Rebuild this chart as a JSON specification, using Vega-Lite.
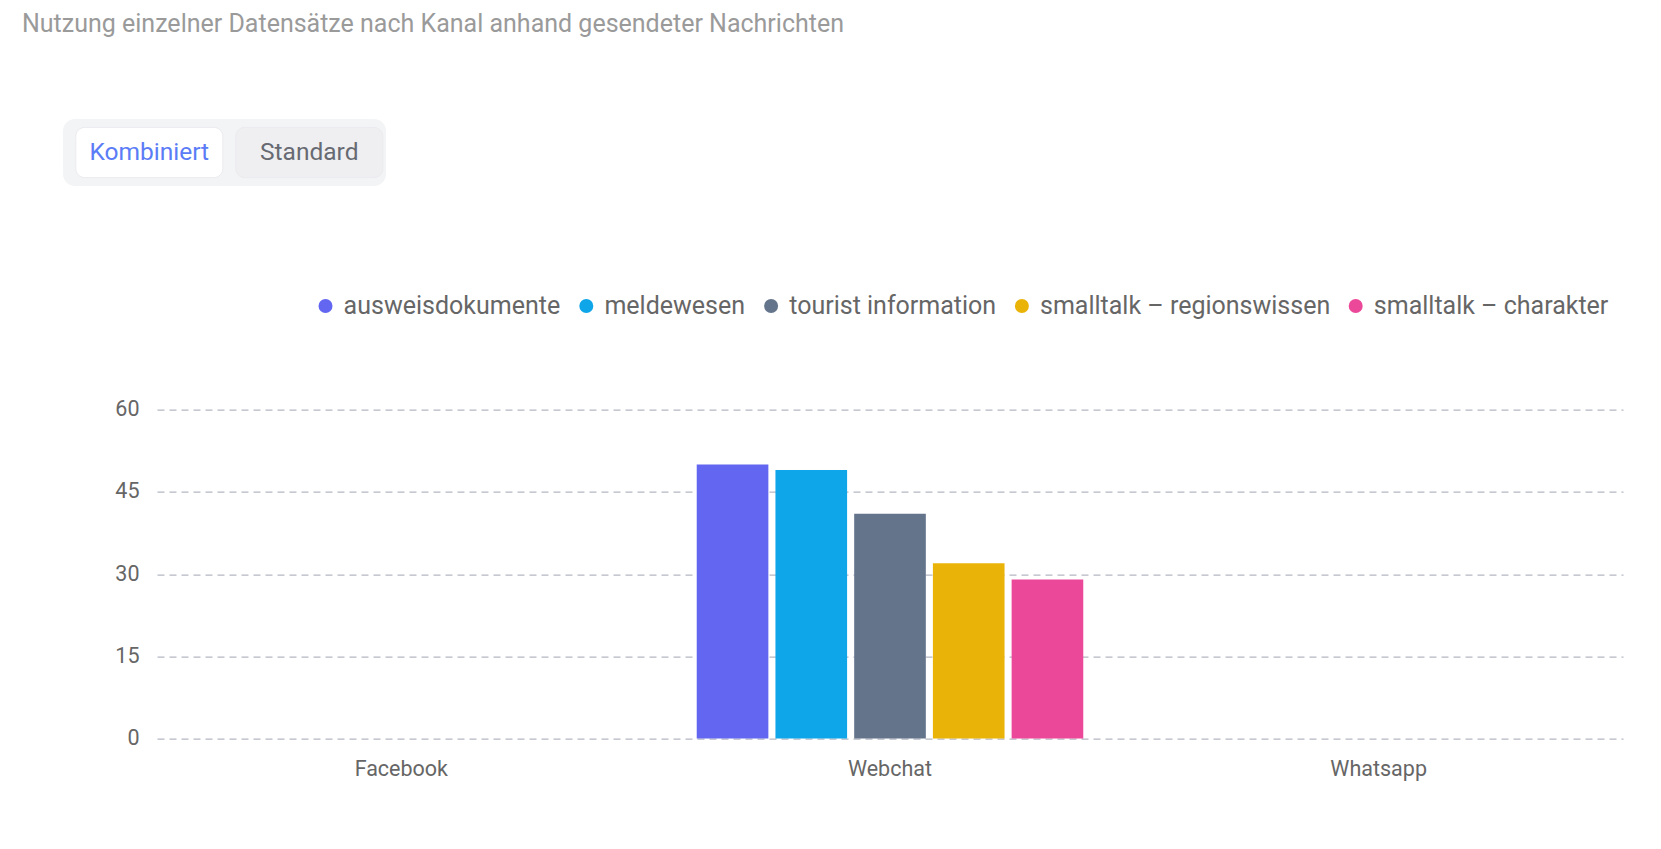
{
  "$schema": "https://vega.github.io/schema/vega-lite/v6.json",
  "background": "#ffffff",
  "padding": {"left": 22, "top": 12, "right": 20, "bottom": 40},
  "title": {
    "text": "Nutzung einzelner Datensätze nach Kanal anhand gesendeter Nachrichten",
    "anchor": "start",
    "dx": -41,
    "offset": 82,
    "fontSize": 25,
    "font": "Roboto",
    "fontWeight": "normal",
    "color": "#9a9a9a"
  },
  "spacing": 106.6,
  "vconcat": [
    {
      "width": 323,
      "height": 67,
      "data": {"values": [
        {"Ansicht": "Kombiniert", "Gruppe": "Ansicht"},
        {"Ansicht": "Standard", "Gruppe": "Ansicht"}
      ]},
      "view": {"fill": "#f3f4f6", "stroke": null, "cornerRadius": 12},
      "encoding": {
        "x": {"field": "Ansicht", "type": "nominal", "axis": null,
              "scale": {"paddingInner": 0.081, "paddingOuter": 0.05, "align": 0.8}},
        "y": {"field": "Gruppe", "type": "nominal", "axis": null,
              "scale": {"paddingInner": 0.25, "paddingOuter": 0.125}}
      },
      "layer": [
        {
          "mark": {"type": "rect", "cornerRadius": 9, "stroke": "#ebebef", "strokeWidth": 1},
          "encoding": {
            "fill": {"field": "Ansicht", "type": "nominal", "legend": null,
                     "scale": {"domain": ["Kombiniert", "Standard"], "range": ["#ffffff", "#efeff1"]}}
          }
        },
        {
          "mark": {"type": "text", "fontSize": 24.5, "font": "Roboto"},
          "encoding": {
            "text": {"field": "Ansicht"},
            "color": {"field": "Ansicht", "type": "nominal", "legend": null,
                      "scale": {"domain": ["Kombiniert", "Standard"], "range": ["#5b7cf6", "#676a72"]}}
          }
        }
      ]
    },
    {
      "spacing": 0,
      "hconcat": [
        {
          "width": 44,
          "height": 329,
          "data": {"values": []},
          "view": {"stroke": null},
          "mark": {"type": "rect"},
          "encoding": {}
        },
        {
          "width": 1466,
          "height": 329,
          "data": {"values": [
            {"Kanal": "Webchat", "Datensatz": "ausweisdokumente", "Nachrichten": 50},
            {"Kanal": "Webchat", "Datensatz": "meldewesen", "Nachrichten": 49},
            {"Kanal": "Webchat", "Datensatz": "tourist information", "Nachrichten": 41},
            {"Kanal": "Webchat", "Datensatz": "smalltalk – regionswissen", "Nachrichten": 32},
            {"Kanal": "Webchat", "Datensatz": "smalltalk – charakter", "Nachrichten": 29}
          ]},
          "view": {"stroke": null},
          "mark": {"type": "bar"},
          "encoding": {
            "x": {
              "field": "Kanal", "type": "nominal",
              "scale": {"domain": ["Facebook", "Webchat", "Whatsapp"], "paddingInner": 0.209, "paddingOuter": 0.1045},
              "axis": {"title": null, "labelAngle": 0, "ticks": false, "domain": false, "labelPadding": 20,
                       "labelFontSize": 21.5, "labelFont": "Roboto", "labelColor": "#666666", "grid": false}
            },
            "xOffset": {
              "field": "Datensatz", "type": "nominal",
              "sort": ["ausweisdokumente", "meldewesen", "tourist information", "smalltalk – regionswissen", "smalltalk – charakter"],
              "scale": {"paddingInner": 0.09, "paddingOuter": 0}
            },
            "y": {
              "field": "Nachrichten", "type": "quantitative",
              "scale": {"domain": [0, 60], "nice": false},
              "axis": {"title": null, "values": [0, 15, 30, 45, 60], "ticks": false, "domain": false,
                       "labelPadding": 18, "minExtent": 50, "maxExtent": 50, "labelFontSize": 21.5, "labelFont": "Roboto",
                       "labelColor": "#666666", "grid": true, "gridDash": [7, 5], "gridColor": "#b4b8c2",
                       "gridWidth": 1.3}
            },
            "color": {
              "field": "Datensatz", "type": "nominal",
              "scale": {
                "domain": ["ausweisdokumente", "meldewesen", "tourist information", "smalltalk – regionswissen", "smalltalk – charakter"],
                "range": ["#6366f1", "#0ea5e9", "#64748b", "#eab308", "#ec4899"]
              },
              "legend": {
                "orient": "none", "direction": "horizontal", "legendX": 156, "legendY": -116.4,
                "title": null, "symbolType": "circle", "symbolSize": 196, "symbolStrokeWidth": 0,
                "labelFontSize": 25, "labelFont": "Roboto", "labelColor": "#666666", "labelLimit": 0,
                "labelOffset": 5.6, "columnPadding": 12.8, "columns": 5
              }
            }
          }
        }
      ],
      "resolve": {"scale": {"color": "independent"}, "legend": {"color": "independent"}}
    }
  ],
  "resolve": {"scale": {"color": "independent", "fill": "independent"}, "legend": {"color": "independent"}}
}
